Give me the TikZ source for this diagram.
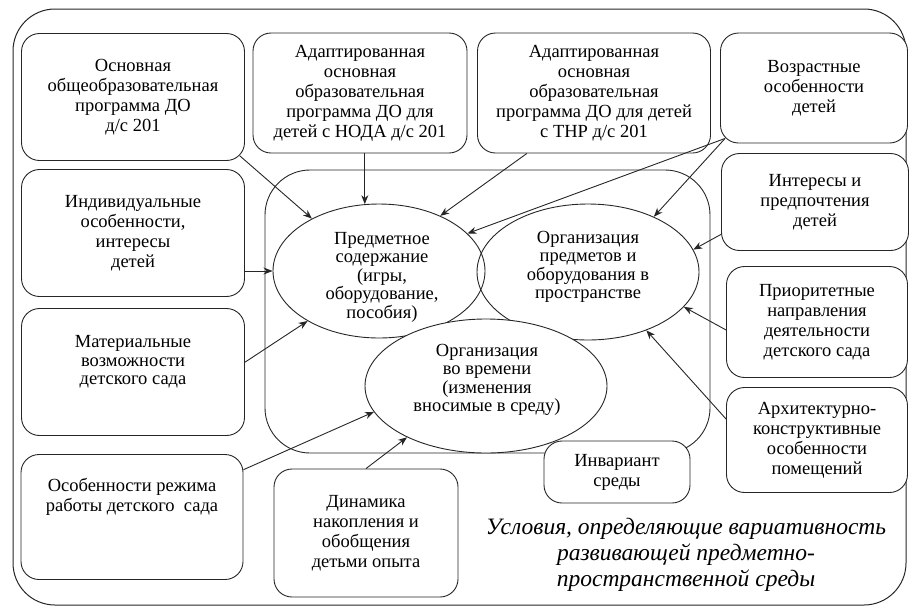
\documentclass[tikz,border=0pt]{standalone}
\usepackage{fontspec}
\setmainfont{Liberation Serif}
\usetikzlibrary{shapes.geometric, arrows.meta}
\usetikzlibrary{positioning}

\tikzset{
  box/.style={draw=black!85, line width=0.9pt, rounded corners=18pt, fill=white, align=center, inner sep=2pt, font=\rmfamily\fontsize{18.5}{20}\selectfont},
  oval/.style={draw=black!85, line width=0.9pt, ellipse, inner sep=0pt},
  txt/.style={align=center, inner sep=0pt, font=\rmfamily\fontsize{18.5}{18.5}\selectfont},
  link/.style={draw=black!85, line width=0.9pt, -{Stealth[length=9pt,width=7pt]}},
}

\begin{document}
\begin{tikzpicture}[x=1pt, y=-1pt]

\useasboundingbox (0,0) rectangle (909,611);

% frames
\draw[rounded corners=42pt, line width=1pt, black!85] (13,9) rectangle (906,605);
\draw[rounded corners=45pt, line width=0.9pt, black!85] (265,170) rectangle (710,453);

% ovals
\node[oval, minimum width=212pt, minimum height=134pt] (subj) at (379,271) {};
\node[oval, minimum width=222pt, minimum height=136pt] (space) at (588,272) {};
\node[oval, fill=white, minimum width=242pt, minimum height=134pt] (time) at (486,386) {};

\node[txt] (subj-t) at (382,277) {Предметное\\содержание\\(игры,\\оборудование,\\пособия)};
\node[txt] (space-t) at (588,267) {Организация\\предметов и\\оборудования в\\пространстве};
\node[txt] (time-t) at (487,380) {Организация\\во времени\\(изменения\\вносимые в среду)};

% boxes, top row
\node[box, minimum width=223pt, minimum height=127pt] (oop) at (133,97) {Основная\\общеобразовательная\\программа ДО\\д/с 201};
\node[box, minimum width=214pt, minimum height=120pt] (noda) at (360,93) {Адаптированная\\основная\\образовательная\\программа ДО для\\детей с НОДА д/с 201};
\node[box, minimum width=233pt, minimum height=120pt] (tnr) at (594,93) {Адаптированная\\основная\\образовательная\\программа ДО для детей\\с ТНР д/с 201};
\node[box, minimum width=187pt, minimum height=110pt] (age) at (814,88) {Возрастные\\особенности\\детей};

% boxes, right column
\node[box, minimum width=187pt, minimum height=97pt] (pref) at (815,202) {Интересы и\\предпочтения\\детей};
\node[box, minimum width=181pt, minimum height=111pt] (prio) at (817,322) {Приоритетные\\направления\\деятельности\\детского сада};
\node[box, minimum width=181pt, minimum height=105pt] (arch) at (817,440) {Архитектурно-\\конструктивные\\особенности\\помещений};

% boxes, left column
\node[box, minimum width=223pt, minimum height=127pt] (indiv) at (133,233) {Индивидуальные\\особенности,\\интересы\\детей};
\node[box, minimum width=223pt, minimum height=127pt] (mat) at (133,372) {};
\node[txt] (mat-t) at (133,362) {Материальные\\возможности\\детского сада};
\node[box, minimum width=222pt, minimum height=125pt] (mode) at (132,517) {};
\node[txt, font=\rmfamily\fontsize{18.5}{20}\selectfont] (mode-t) at (132,497) {Особенности режима\\работы детского\ \ сада};

% boxes, bottom
\node[box, minimum width=184pt, minimum height=128pt] (dyn) at (366,533) {Динамика\\накопления и\\обобщения\\детьми опыта};
\node[box, minimum width=146pt, minimum height=62pt] (inv) at (617,472) {Инвариант\\среды};

% caption
\node[align=center, font=\rmfamily\fontsize{23.5}{26}\selectfont\itshape] (title) at (686,555) {Условия, определяющие вариативность\\развивающей предметно-\\пространственной среды};

% arrows
\draw[link] ([xshift=-5pt, yshift=5pt]oop.south east) -- (subj.142);
\draw[link] (subj.102 |- noda.south) -- (subj.102);
\draw[link] (tnr.222) -- (subj.42);
\draw[link] ([xshift=5pt, yshift=5pt]age.south west) -- (subj.23);
\draw[link] ([xshift=5pt, yshift=5pt]age.south west) -- (space.40);
\draw[link] (pref.199) -- (space.12);
\draw[link] (prio.185) -- (space.340);
\draw[link] (arch.167) -- (space.315);
\draw[link] (indiv.east |- subj.west) -- (subj.west);
\draw[link] (mat.5) -- (subj.215);
\draw[link] (mode.23) -- (time.193);
\draw[link] (dyn.north) -- (time.213);

\end{tikzpicture}
\end{document}
